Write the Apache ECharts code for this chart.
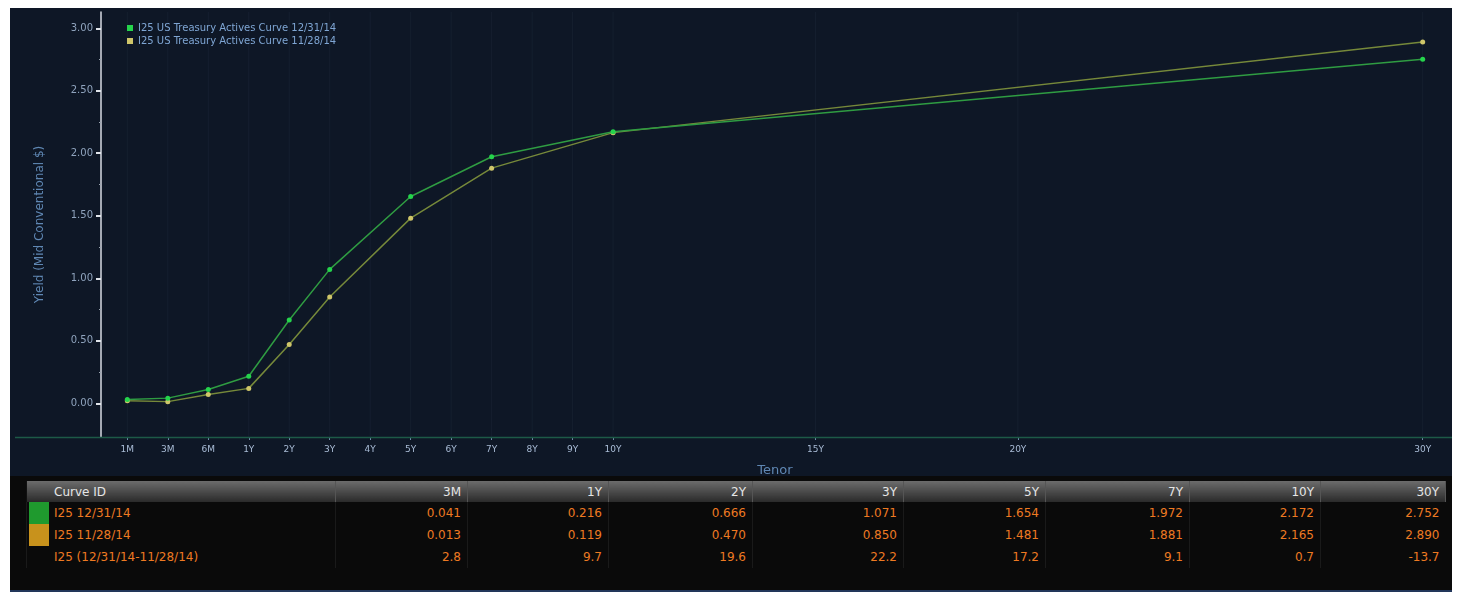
<!DOCTYPE html>
<html>
<head>
<meta charset="utf-8">
<script src="https://cdn.jsdelivr.net/npm/echarts@6/dist/echarts.min.js"></script>
<style>
  html, body { margin: 0; padding: 0; background: #ffffff; width: 1459px; height: 594px; overflow: hidden; }
  #panel { position: absolute; left: 10px; top: 8px; width: 1442px; height: 584px; background: #0e1726; }
  #chart { position: absolute; left: 10px; top: 8px; width: 1442px; height: 584px; }
  #tablewrap { position: absolute; left: 10px; top: 476px; width: 1442px; height: 116px; background: #0a0a0a; border-bottom: 2px solid #22365a; box-sizing: border-box; }
  table { position: absolute; left: 16px; top: 5px; border-collapse: collapse; table-layout: fixed; font-family: "DejaVu Sans", sans-serif; font-size: 12px; }
  th { height: 21px; padding: 0 6px; text-align: right; color: #e6e6e6; font-weight: normal; background: linear-gradient(#6c6c6c, #2a2a2a); border-left: 1px solid #111; border-right: 1px solid #555; }
  th.id { text-align: left; padding-left: 27px; }
  td { height: 22px; padding: 0 6px; text-align: right; color: #ee7a22; border-left: 1px solid #1a1a1a; }
  td.id { text-align: left; padding-left: 27px; position: relative; }
  td.id span.sw { position: absolute; left: 2px; top: 0; width: 20px; height: 22px; }
</style>
</head>
<body>
<div id="panel"></div>
<div id="chart"></div>
<div id="tablewrap"><table id="tbl"></table></div>
<script>
// ---- data ----
const axisTenors = ['1M','3M','6M','1Y','2Y','3Y','4Y','5Y','6Y','7Y','8Y','9Y','10Y','15Y','20Y','30Y'];
const curveTenors = ['1M','3M','6M','1Y','2Y','3Y','5Y','7Y','10Y','30Y'];
const seriesNames = ['I25 US Treasury Actives Curve 12/31/14', 'I25 US Treasury Actives Curve 11/28/14'];
const curveDec = [0.03, 0.041, 0.11, 0.216, 0.666, 1.071, 1.654, 1.972, 2.172, 2.752];
const curveNov = [0.02, 0.013, 0.07, 0.119, 0.470, 0.850, 1.481, 1.881, 2.165, 2.890];
const yTicks = [0, 0.5, 1.0, 1.5, 2.0, 2.5, 3.0];
const yMinorTicks = [0.25, 0.75, 1.25, 1.75, 2.25, 2.75];
const tableTenors = ['3M','1Y','2Y','3Y','5Y','7Y','10Y','30Y'];
const rowIds = ['I25 12/31/14', 'I25 11/28/14', 'I25 (12/31/14-11/28/14)'];
const rowDec = ['0.041','0.216','0.666','1.071','1.654','1.972','2.172','2.752'];
const rowNov = ['0.013','0.119','0.470','0.850','1.481','1.881','2.165','2.890'];
const rowDiff = ['2.8','9.7','19.6','22.2','17.2','9.1','0.7','-13.7'];

// tenor -> axis slot (months get one slot each, years are linear)
const monthTenors = ['1M','3M','6M'];
function slot(t) {
  const m = monthTenors.indexOf(t);
  if (m >= 0) return m;
  return parseInt(t, 10) + 2;
}
const tickSlots = axisTenors.map(slot);
const labelBySlot = {};
axisTenors.forEach(t => { labelBySlot[slot(t)] = t; });

const colDec = '#2f9c42', dotDec = '#25d44c';
const colNov = '#76893a', dotNov = '#cfc66a';

const chart = echarts.init(document.getElementById('chart'), null, { renderer: 'canvas' });
const option = {
  backgroundColor: 'transparent',
  animation: false,
  grid: { left: 91, right: 3, top: 4, bottom: 155 },
  legend: {
    orient: 'vertical', left: 112, top: 10, itemWidth: 6, itemHeight: 6, itemGap: 3,
    icon: 'rect',
    textStyle: { color: '#7fa6d4', fontSize: 10, fontFamily: 'DejaVu Sans' },
    data: [
      { name: seriesNames[0], itemStyle: { color: dotDec } },
      { name: seriesNames[1], itemStyle: { color: dotNov } }
    ]
  },
  xAxis: {
    type: 'value', min: -0.65, max: 32.65,
    name: 'Tenor', nameLocation: 'middle', nameGap: 27,
    nameTextStyle: { color: '#5f87b3', fontSize: 13, fontFamily: 'DejaVu Sans' },
    axisLine: { show: false, onZero: false },
    axisTick: { show: true, customValues: tickSlots, inside: false, length: 3, lineStyle: { color: '#6f8aa8' } },
    axisLabel: { customValues: tickSlots, formatter: v => labelBySlot[v] || '', color: '#a9bcd6', fontSize: 9, fontFamily: 'DejaVu Sans', margin: 8 },
    splitLine: { show: false }
  },
  yAxis: [{
    type: 'value', min: -0.27, max: 3.13,
    name: 'Yield (Mid Conventional $)', nameLocation: 'middle', nameGap: 55,
    nameTextStyle: { color: '#5f87b3', fontSize: 12, fontFamily: 'DejaVu Sans' },
    axisLine: { show: true, onZero: false, lineStyle: { color: '#d8dde4', width: 1.5 } },
    axisTick: { show: true, customValues: yTicks, length: 5, lineStyle: { color: '#e0e4ea', width: 2 } },
    axisLabel: { customValues: yTicks, formatter: v => v.toFixed(2), color: '#8fa3bd', fontSize: 10, fontFamily: 'DejaVu Sans', margin: 8 },
    splitLine: { show: false }
  }, {
    type: 'value', min: -0.27, max: 3.13, position: 'left',
    axisLine: { show: false, onZero: false },
    axisTick: { show: true, customValues: yMinorTicks, length: 2, lineStyle: { color: '#9aa4b0', width: 1 } },
    axisLabel: { show: false },
    splitLine: { show: false }
  }],
  graphic: [{
    type: 'line', z: 1,
    shape: { x1: 5, y1: 429.5, x2: 1442, y2: 429.5 },
    style: { stroke: '#1d5a47', lineWidth: 1.5 }
  }],
  series: [{
    name: seriesNames[0], type: 'line',
    data: curveTenors.map((t, i) => [slot(t), curveDec[i]]),
    lineStyle: { color: colDec, width: 1.5 },
    itemStyle: { color: dotDec },
    symbol: 'circle', symbolSize: 5, z: 4
  }, {
    name: seriesNames[1], type: 'line',
    data: curveTenors.map((t, i) => [slot(t), curveNov[i]]),
    lineStyle: { color: colNov, width: 1.5 },
    itemStyle: { color: dotNov },
    symbol: 'circle', symbolSize: 5, z: 3
  }]
};
chart.setOption(option);

// vertical faint grid lines at tick positions
const gridLines = tickSlots.map(s => {
  const x = chart.convertToPixel({ xAxisIndex: 0 }, s);
  return { type: 'line', z: 0, shape: { x1: x, y1: 4, x2: x, y2: 429 }, style: { stroke: 'rgba(120,140,170,0.07)', lineWidth: 1 } };
});
chart.setOption({ graphic: option.graphic.concat(gridLines) });

// ---- table ----
const colWidths = [309, 132, 141, 144, 151, 142, 144, 131, 125];
const tbl = document.getElementById('tbl');
let html = '<colgroup>' + colWidths.map(w => '<col style="width:' + w + 'px">').join('') + '</colgroup>';
html += '<tr><th class="id">Curve ID</th>' + tableTenors.map(t => '<th>' + t + '</th>').join('') + '</tr>';
const rows = [rowDec, rowNov, rowDiff];
const swatches = ['#1f9a2e', '#c8921c', null];
rows.forEach((r, i) => {
  html += '<tr><td class="id">' + (swatches[i] ? '<span class="sw" style="background:' + swatches[i] + '"></span>' : '') + rowIds[i] + '</td>' +
    r.map(v => '<td>' + v + '</td>').join('') + '</tr>';
});
tbl.innerHTML = html;
</script>
</body>
</html>
